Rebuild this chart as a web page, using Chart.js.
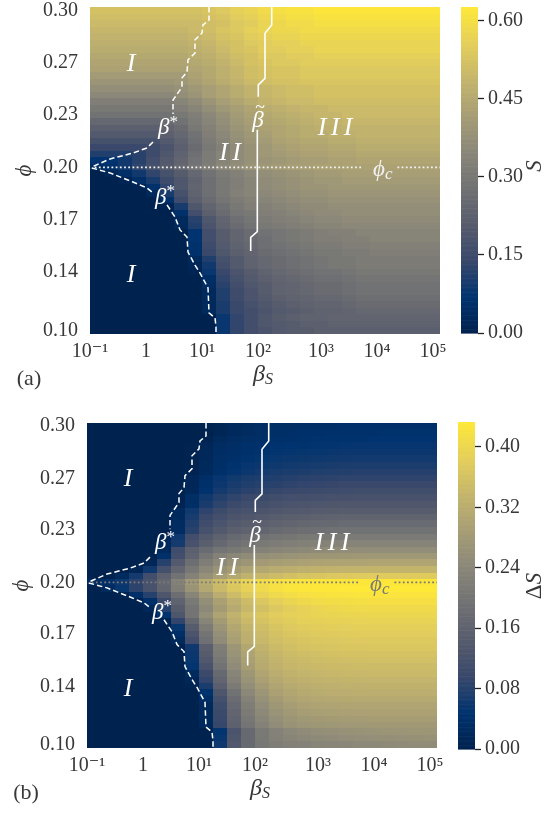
<!DOCTYPE html>
<html><head><meta charset="utf-8">
<script src="https://cdn.jsdelivr.net/npm/chart.js@4.4.1/dist/chart.umd.min.js"></script>
<style>
html,body{margin:0;padding:0;background:#fff;}
body{width:558px;height:813px;position:relative;overflow:hidden;}
canvas{position:absolute;}
</style></head><body>
<canvas id="mainA" width="450" height="400" style="left:0;top:0"></canvas>
<canvas id="cbA" width="118" height="400" style="left:440px;top:0"></canvas>
<canvas id="mainB" width="450" height="400" style="left:-3px;top:416px"></canvas>
<canvas id="cbB" width="118" height="400" style="left:437px;top:416px"></canvas>
<script>
// ================= DATA =================
// column centres: log10(beta_S)
const betaLog=[-0.88,-0.64,-0.40,-0.16,0.08,0.32,0.56,0.80,1.04,1.28,1.52,1.76,2.00,2.24,2.48,2.72,2.96,3.20,3.44,3.68,3.92,4.16,4.40,4.64,4.88];
// row centres: phi (top to bottom)
const phiRows=[0.3000,0.2959,0.2918,0.2878,0.2837,0.2796,0.2755,0.2714,0.2673,0.2633,0.2592,0.2551,0.2510,0.2469,0.2429,0.2388,0.2347,0.2306,0.2265,0.2224,0.2184,0.2143,0.2102,0.2061,0.2020,0.1980,0.1939,0.1898,0.1857,0.1816,0.1776,0.1735,0.1694,0.1653,0.1612,0.1571,0.1531,0.1490,0.1449,0.1408,0.1367,0.1327,0.1286,0.1245,0.1204,0.1163,0.1122,0.1082,0.1041,0.1000];
const xTickVals=[-1,-0.04,0.92,1.88,2.96,3.92,4.88];
const xTickLabels=['10\u207B\u00B9','1','10\u00B9','10\u00B2','10\u00B3','10\u2074','10\u2075'];
const yTickVals=[0.1000,0.1367,0.1694,0.2020,0.2347,0.2673,0.3000];
const yTickLabels=['0.10','0.14','0.17','0.20','0.23','0.27','0.30'];
// S (panel a), in units of 0.01
const S_a=[
[52,52,52,52,52,52,52,52,53,54,56,57,59,60,61,61,62,62,62,62,62,62,62,62,62],
[51,51,51,51,51,51,51,51,52,53,55,56,58,59,60,60,61,61,61,61,61,61,61,61,61],
[50,50,50,50,50,50,50,50,51,52,54,55,57,58,59,59,60,60,60,60,60,60,60,60,60],
[49,49,49,49,49,49,49,50,51,53,54,56,57,58,58,59,59,59,59,59,59,59,59,59,59],
[48,48,48,48,48,48,48,49,50,52,53,55,56,57,57,58,58,58,58,58,58,58,58,58,58],
[47,47,47,47,47,47,47,48,49,51,52,54,55,56,56,57,57,57,57,57,57,57,57,57,57],
[46,46,46,46,46,46,46,47,48,50,52,53,55,55,56,56,57,57,57,57,57,57,57,57,57],
[45,45,45,45,45,45,45,46,47,49,51,52,54,54,55,55,56,56,56,56,56,56,56,56,56],
[44,44,44,44,44,44,44,45,46,48,50,52,53,54,54,55,55,55,55,55,55,55,55,55,55],
[43,43,43,43,43,43,43,44,45,47,49,51,52,53,53,54,54,54,54,54,54,54,54,54,54],
[41,41,41,41,41,41,41,43,45,47,49,51,52,53,53,54,54,54,54,54,54,54,54,54,54],
[39,39,39,39,39,39,40,42,44,46,48,50,51,52,52,53,53,53,53,53,53,53,53,53,53],
[37,37,37,37,37,37,38,40,42,44,46,48,49,50,51,51,52,52,52,52,52,52,52,52,52],
[35,35,35,35,35,35,37,39,42,44,46,48,49,50,51,51,52,52,52,52,52,52,52,52,52],
[32,32,32,32,32,32,34,36,39,42,44,46,48,49,50,50,51,51,51,51,51,51,51,51,51],
[30,30,30,30,30,30,32,34,37,40,42,44,46,47,48,49,49,50,50,50,50,50,50,50,50],
[28,28,28,28,28,28,30,32,35,38,41,43,45,46,47,48,49,49,50,50,50,50,50,50,50],
[25,25,25,25,25,26,28,31,34,37,40,42,44,45,46,47,48,48,49,49,49,49,49,49,49],
[22,22,22,22,22,24,26,30,33,36,39,41,43,44,45,46,47,47,48,48,48,48,48,48,48],
[20,20,20,20,20,22,25,28,32,35,38,40,42,44,45,46,46,47,47,48,48,48,48,48,48],
[17,17,17,17,17,20,23,27,31,34,37,39,41,43,44,45,45,46,46,47,47,47,47,47,47],
[14,14,14,14,15,18,22,26,30,33,36,38,40,42,43,44,44,45,45,46,46,46,46,46,46],
[11,11,11,12,15,19,23,27,31,34,36,38,40,41,42,43,43,44,44,45,45,45,45,45,45],
[7,7,9,12,16,20,24,28,31,34,36,38,39,40,41,42,42,43,43,44,44,44,44,44,44],
[4,6,9,13,17,21,25,29,32,35,37,39,40,41,42,42,43,43,43,43,43,43,43,43,43],
[0,2,5,9,13,17,21,25,28,31,33,35,37,38,39,40,41,41,42,42,42,42,42,42,42],
[0,0,1,5,10,15,19,23,27,30,32,34,36,37,38,39,40,40,41,41,41,41,41,41,41],
[0,0,0,1,6,13,19,24,27,30,32,34,36,37,38,39,39,40,40,40,40,40,40,40,40],
[0,0,0,0,3,10,17,23,27,30,33,34,35,36,37,38,38,39,39,39,39,39,39,39,39],
[0,0,0,0,0,6,15,22,26,29,31,33,34,35,36,37,37,38,38,38,38,38,38,38,38],
[0,0,0,0,0,1,10,19,24,27,30,32,33,34,35,36,36,37,37,37,37,37,37,37,37],
[0,0,0,0,0,0,6,16,22,26,29,30,32,33,34,35,36,36,37,37,37,37,37,37,37],
[0,0,0,0,0,0,3,12,19,24,27,29,31,32,33,34,35,35,36,36,36,36,36,36,36],
[0,0,0,0,0,0,3,11,18,23,26,28,30,31,32,33,34,34,35,35,35,35,35,35,35],
[0,0,0,0,0,0,0,7,16,21,24,26,28,29,30,31,32,33,33,34,34,34,34,34,34],
[0,0,0,0,0,0,0,7,16,21,24,26,27,29,30,31,32,32,33,33,34,34,34,34,34],
[0,0,0,0,0,0,0,6,15,20,23,25,27,28,29,30,31,31,32,32,33,33,33,33,33],
[0,0,0,0,0,0,0,6,14,19,22,24,26,27,28,29,30,30,31,31,32,32,32,32,32],
[0,0,0,0,0,0,0,3,11,17,20,23,25,26,27,28,29,30,30,31,31,31,31,31,31],
[0,0,0,0,0,0,0,2,9,16,20,23,25,26,27,28,29,30,30,31,31,31,31,31,31],
[0,0,0,0,0,0,0,1,8,14,18,21,23,25,26,27,28,28,29,30,30,30,30,30,30],
[0,0,0,0,0,0,0,0,5,13,17,20,22,24,25,26,27,27,28,29,29,29,29,29,29],
[0,0,0,0,0,0,0,0,4,12,16,19,21,23,24,25,26,26,27,28,28,28,28,28,28],
[0,0,0,0,0,0,0,0,3,11,15,18,21,23,24,25,26,26,27,28,28,28,28,28,28],
[0,0,0,0,0,0,0,0,3,11,15,18,20,22,23,24,25,25,26,27,27,27,27,27,27],
[0,0,0,0,0,0,0,0,3,10,14,17,19,21,22,23,24,24,25,26,26,26,26,26,26],
[0,0,0,0,0,0,0,0,3,10,14,16,18,20,21,22,23,23,24,25,25,25,25,25,25],
[0,0,0,0,0,0,0,0,0,8,13,16,19,21,22,23,23,24,24,24,24,24,24,24,24],
[0,0,0,0,0,0,0,0,0,8,13,16,19,20,21,22,22,23,23,23,23,23,23,23,23],
[0,0,0,0,0,0,0,0,0,8,13,16,18,20,21,21,22,22,22,22,22,22,22,22,22]];
// Delta S (panel b), in units of 0.001
const dS_b=[
[0,0,0,0,0,0,0,0,1,11,21,26,30,33,34,36,37,38,39,39,39,40,40,40,40],
[0,0,0,0,0,0,0,0,1,12,23,29,33,36,38,40,41,42,43,43,43,44,44,44,44],
[0,0,0,0,0,0,0,0,4,20,29,34,37,39,41,43,45,46,47,47,48,48,48,48,48],
[0,0,0,0,0,0,0,2,15,28,34,39,43,46,48,49,50,51,52,53,53,53,53,53,53],
[0,0,0,0,0,0,0,2,16,30,37,43,47,50,52,54,55,56,57,58,58,58,58,58,58],
[0,0,0,0,0,0,0,2,18,33,41,47,52,55,58,59,61,62,63,64,64,64,64,64,64],
[0,0,0,0,0,0,0,6,20,37,46,53,58,61,64,66,67,69,70,71,71,71,71,71,71],
[0,0,0,0,0,0,0,6,22,41,51,58,64,68,71,73,75,77,78,79,79,79,79,79,79],
[0,0,0,0,0,0,0,13,37,53,62,69,72,76,79,82,84,85,87,88,88,88,88,88,88],
[0,0,0,0,0,0,0,15,41,58,68,76,80,83,87,90,92,94,96,97,97,97,97,97,97],
[0,0,0,0,0,0,3,16,45,65,76,84,89,93,97,100,103,105,106,108,108,108,108,108,108],
[0,0,0,0,0,0,4,34,62,78,89,98,103,108,112,114,116,118,119,120,120,120,120,120,120],
[0,0,0,0,0,0,4,37,69,86,99,109,114,120,124,127,129,131,132,133,133,133,133,133,133],
[0,0,0,0,0,0,22,62,88,103,115,121,126,132,137,140,143,145,147,147,147,147,147,147,147],
[0,0,0,0,0,0,24,68,97,113,126,133,139,146,151,154,157,160,162,162,162,162,162,162,162],
[0,0,0,0,0,0,27,75,107,124,139,146,153,160,166,169,173,175,178,178,178,178,178,178,178],
[0,0,0,0,0,0,29,82,117,137,152,160,168,176,181,185,189,192,195,195,195,195,195,195,195],
[0,0,0,0,0,6,60,111,138,158,175,183,192,198,202,207,210,211,213,213,213,213,213,213,213],
[0,0,0,0,0,19,65,121,151,172,191,200,210,217,221,226,230,231,233,233,233,233,233,233,233],
[0,0,0,0,0,20,107,152,178,198,208,218,229,236,241,246,250,252,254,254,254,254,254,254,254],
[0,0,0,0,3,40,110,160,200,225,240,250,258,263,267,270,272,274,275,276,277,277,277,277,277],
[0,0,0,0,15,80,140,185,220,245,262,274,283,289,293,296,298,300,301,302,303,303,303,303,303],
[0,0,0,10,60,115,165,205,240,265,285,300,310,318,323,327,330,332,333,334,335,335,335,335,335],
[0,0,25,65,110,155,195,230,260,290,310,328,340,350,358,364,368,372,374,376,377,378,378,378,378],
[25,40,60,88,120,170,232,278,318,350,375,395,410,420,426,429,430,430,430,430,430,430,430,430,430],
[2,25,55,85,120,165,220,268,310,345,370,390,405,418,425,429,431,432,433,433,433,433,433,433,433],
[0,0,5,35,80,130,185,235,280,320,350,375,392,405,413,418,421,423,424,425,426,426,426,426,426],
[0,0,0,3,40,100,160,210,255,295,325,350,370,385,396,404,409,412,414,415,416,416,416,416,416],
[0,0,0,0,15,80,145,200,245,285,315,340,358,372,383,391,397,401,404,406,407,407,407,407,407],
[0,0,0,0,0,45,130,200,255,300,332,355,370,380,387,391,394,396,398,399,400,400,400,400,400],
[0,0,0,0,0,8,90,170,235,285,320,345,362,374,381,386,389,390,391,392,392,392,392,392,392],
[0,0,0,0,0,0,55,145,215,270,308,335,353,366,374,379,382,383,384,385,385,385,385,385,385],
[0,0,0,0,0,0,35,125,200,258,298,326,346,359,368,373,376,378,379,380,380,380,380,380,380],
[0,0,0,0,0,0,20,110,190,250,292,322,342,355,362,367,370,372,373,374,375,375,375,375,375],
[0,0,0,0,0,0,0,60,150,220,272,308,332,347,356,361,364,366,368,369,370,370,370,370,370],
[0,0,0,0,0,0,0,58,145,215,266,301,325,340,349,354,357,359,361,362,363,363,363,363,363],
[0,0,0,0,0,0,0,55,135,205,258,295,319,334,343,348,351,353,355,356,357,357,357,357,357],
[0,0,0,0,0,0,0,50,120,195,250,288,315,330,338,342,345,347,348,349,350,350,350,350,350],
[0,0,0,0,0,0,0,25,100,175,235,275,303,320,330,336,339,341,342,343,344,344,344,344,344],
[0,0,0,0,0,0,0,15,90,165,225,267,295,313,323,329,332,334,335,336,337,337,337,337,337],
[0,0,0,0,0,0,0,5,70,150,212,255,285,304,315,321,325,327,328,329,330,330,330,330,330],
[0,0,0,0,0,0,0,0,45,130,195,242,274,295,307,314,318,320,321,322,323,323,323,323,323],
[0,0,0,0,0,0,0,0,30,115,182,230,263,285,298,306,310,312,313,314,315,315,315,315,315],
[0,0,0,0,0,0,0,0,20,105,172,220,253,275,288,296,300,302,303,304,305,305,305,305,305],
[0,0,0,0,0,0,0,0,20,100,165,212,245,267,280,288,292,294,295,296,297,297,297,297,297],
[0,0,0,0,0,0,0,0,20,97,160,205,237,258,271,279,283,285,286,287,288,288,288,288,288],
[0,0,0,0,0,0,0,0,18,93,155,199,230,251,264,271,275,277,278,279,280,280,280,280,280],
[0,0,0,0,0,0,0,0,0,50,125,175,210,230,242,250,255,259,262,265,267,269,270,271,272],
[0,0,0,0,0,0,0,0,0,55,130,175,207,225,235,242,247,250,253,256,258,259,260,261,262],
[0,0,0,0,0,0,0,0,0,60,135,175,205,218,225,230,235,238,241,244,246,248,250,251,252]];
const S_max=0.626, dS_max=0.433;
const cbTicksA=[0,0.15,0.30,0.45,0.60], cbLabelsA=['0.00','0.15','0.30','0.45','0.60'];
const cbTicksB=[0,0.08,0.16,0.24,0.32,0.40], cbLabelsB=['0.00','0.08','0.16','0.24','0.32','0.40'];
// boundary curves [log10 beta_S, phi]
const betaStarUp1=[[1.04,0.3021],[1.04,0.2939],[0.937,0.2908],[0.92,0.2858],[0.80,0.2815],[0.80,0.2733],[0.68,0.2690],[0.663,0.2615],[0.577,0.2577],[0.577,0.2521],[0.423,0.2440],[0.423,0.2353]];
const betaStarUp2=[[0.08,0.2178],[-0.023,0.2141],[-0.263,0.2109],[-0.657,0.2072],[-0.97,0.2022]];
const betaStarLow1=[[-0.97,0.2016],[-0.657,0.1985],[-0.263,0.1928],[-0.023,0.1891],[0.063,0.1866]];
const betaStarLow2=[[0.32,0.1785],[0.457,0.1710],[0.543,0.1629],[0.663,0.1585],[0.68,0.1491],[0.80,0.1410],[0.886,0.1360],[1.023,0.1267],[1.04,0.1111],[1.143,0.1080],[1.16,0.1024],[1.16,0.0975]];
const betaTilde1=[[2.115,0.3021],[2.115,0.2908],[2.0,0.2856],[2.0,0.2575],[1.885,0.2534],[1.885,0.2461]];
const betaTilde2=[[1.868,0.2255],[1.868,0.1618],[1.755,0.1583],[1.755,0.1498]];
const phiC=0.2020;
const phiCLine1=[[-0.92,phiC],[3.65,phiC]], phiCLine2=[[4.27,phiC],[5,phiC]];

// ================= RENDERING =================
const SERIF='"Liberation Serif","DejaVu Serif",serif';
const TXT='#383838';
const CIV=[[0,34,78],[0,51,111],[57,72,107],[87,92,109],[112,113,115],[138,135,121],[166,157,117],[196,181,108],[228,207,91],[254,232,56]];
function cividis(t){t=Math.max(0,Math.min(1,t));const p=t*9,i=Math.min(8,Math.floor(p)),f=p-i,a=CIV[i],b=CIV[i+1];
 return 'rgb('+Math.round(a[0]+(b[0]-a[0])*f)+','+Math.round(a[1]+(b[1]-a[1])*f)+','+Math.round(a[2]+(b[2]-a[2])*f)+')';}
function drawParts(ctx,parts,x,y,color){let w=0;for(const p of parts){ctx.font=p.f;p.w=ctx.measureText(p.t).width;w+=p.w;}
 let cx=x-w/2;ctx.fillStyle=color;ctx.textAlign='left';ctx.textBaseline='middle';
 for(const p of parts){ctx.font=p.f;ctx.fillText(p.t,cx,y+(p.dy||0));cx+=p.w;}}
function lineDS(pts,color,dash,width){return {data:pts.map(p=>({x:p[0],y:p[1]})),showLine:true,borderColor:color,borderWidth:width,borderDash:dash,pointRadius:0,pointHoverRadius:0,tension:0,fill:false};}
const noPadV=s=>{s.paddingTop=0;s.paddingBottom=0;};
const noPadH=s=>{s.paddingLeft=0;s.paddingRight=0;};

function makeMain(id,grid,unit,vmax,xAxisH,phiCColor,panelLabel){
 const heat={id:'heat',beforeDatasetsDraw(chart){const {ctx,chartArea:ca,scales:{x,y}}=chart;ctx.save();
  ctx.beginPath();ctx.rect(ca.left,ca.top,ca.right-ca.left,ca.bottom-ca.top);ctx.clip();
  const hx=(betaLog[1]-betaLog[0])/2,hy=(phiRows[0]-phiRows[1])/2;
  for(let r=0;r<phiRows.length;r++)for(let c=0;c<betaLog.length;c++){
   const v=grid[r][c]*unit;
   const x0=Math.round(x.getPixelForValue(betaLog[c]-hx)),x1=Math.round(x.getPixelForValue(betaLog[c]+hx));
   const y0=Math.round(y.getPixelForValue(phiRows[r]+hy)),y1=Math.round(y.getPixelForValue(phiRows[r]-hy));
   ctx.fillStyle=cividis(v/vmax);ctx.fillRect(x0,y0,x1-x0+0.5,y1-y0+0.5);}
  ctx.restore();}};
 const labels={id:'labels',afterDatasetsDraw(chart){const {ctx,scales:{x,y},chartArea:ca}=chart;ctx.save();
  const P=(a,b)=>[x.getPixelForValue(a),y.getPixelForValue(b)];
  const iFont='italic 26px '+SERIF;
  const roman=(n,a,b)=>{const [px,py]=P(a,b);ctx.font=iFont;ctx.fillStyle='#fff';ctx.textAlign='center';ctx.textBaseline='middle';
   for(let k=0;k<n;k++)ctx.fillText('I',px+(k-(n-1)/2)*13,py);};
  roman(1,-0.297,0.2665);roman(1,-0.297,0.1348);roman(2,1.40,0.2109);roman(3,3.20,0.2265);
  const gF='italic 23px '+SERIF;
  let [bx,by]=P(0.337,0.2265);drawParts(ctx,[{t:'\u03B2',f:gF},{t:'*',f:'17px '+SERIF,dy:-6}],bx,by,'#fff');
  [bx,by]=P(0.286,0.1830);drawParts(ctx,[{t:'\u03B2',f:gF},{t:'*',f:'17px '+SERIF,dy:-6}],bx,by,'#fff');
  [bx,by]=P(1.88,0.2328);drawParts(ctx,[{t:'\u03B2',f:gF}],bx,by+3,'#fff');
  ctx.font='18px '+SERIF;ctx.textAlign='center';ctx.fillText('~',bx+2,by-10);
  [bx,by]=P(4.02,0.2003);drawParts(ctx,[{t:'\u03D5',f:gF},{t:'c',f:'italic 17px '+SERIF,dy:5}],bx,by,phiCColor);
  // axis titles
  ctx.save();ctx.translate(25,(ca.top+ca.bottom)/2);ctx.rotate(-Math.PI/2);
  drawParts(ctx,[{t:'\u03D5',f:'italic 23px '+SERIF}],0,0,TXT);ctx.restore();
  drawParts(ctx,[{t:'\u03B2',f:'italic 24px '+SERIF},{t:'S',f:'italic 16px '+SERIF,dy:5}],263,ca.bottom+41,TXT);
  drawParts(ctx,[{t:panelLabel,f:'22px '+SERIF}],29,ca.bottom+45,TXT);
  ctx.restore();}};
 return new Chart(document.getElementById(id),{type:'scatter',
  data:{datasets:[
   lineDS(betaStarUp1,'#fff',[5.5,3],1.5),lineDS(betaStarUp2,'#fff',[5.5,3],1.5),
   lineDS(betaStarLow1,'#fff',[5.5,3],1.5),lineDS(betaStarLow2,'#fff',[5.5,3],1.5),
   lineDS(betaTilde1,'#fff',[],1.6),lineDS(betaTilde2,'#fff',[],1.6),
   lineDS(phiCLine1,phiCColor,[1.8,2.4],1.8),lineDS(phiCLine2,phiCColor,[1.8,2.4],1.8)]},
  options:{responsive:false,animation:false,events:[],
   layout:{padding:{left:0,right:10,top:7,bottom:0}},
   plugins:{legend:{display:false},tooltip:{enabled:false}},
   scales:{
    x:{type:'linear',min:-1,max:5,afterBuildTicks:s=>{s.ticks=xTickVals.map(v=>({value:v}));},afterFit:s=>{s.height=xAxisH;noPadH(s);},
     ticks:{callback:(v,i)=>xTickLabels[i],autoSkip:false,maxRotation:0,minRotation:0,padding:6,color:TXT,font:{family:SERIF,size:20}},
     grid:{display:false,drawTicks:false},border:{display:false}},
    y:{type:'linear',min:0.09796,max:0.30204,afterBuildTicks:s=>{s.ticks=yTickVals.map(v=>({value:v}));},afterFit:s=>{s.width=90;noPadV(s);},
     ticks:{callback:(v,i)=>yTickLabels[i],autoSkip:false,padding:12,color:TXT,font:{family:SERIF,size:20}},
     grid:{display:false,drawTicks:false},border:{display:false}}}},
  plugins:[heat,labels]});
}
function makeCB(id,vmax,ticks,tlabels,padTop,padBottom,titleParts,titleX,titleY){
 const grad={id:'grad',beforeDatasetsDraw(chart){const {ctx,chartArea:ca,scales:{y}}=chart;ctx.save();
  const N=256;for(let k=0;k<N;k++){const v0=vmax*k/N,v1=vmax*(k+1)/N;const y0=y.getPixelForValue(v1),y1=y.getPixelForValue(v0);
   ctx.fillStyle=cividis((k+0.5)/N);ctx.fillRect(ca.left,y0,ca.right-ca.left,y1-y0+0.6);}
  ctx.translate(titleX,titleY);ctx.rotate(-Math.PI/2);drawParts(ctx,titleParts,0,0,TXT);ctx.restore();}};
 return new Chart(document.getElementById(id),{type:'scatter',data:{datasets:[]},
  options:{responsive:false,animation:false,events:[],
   layout:{padding:{left:21,right:0,top:padTop,bottom:padBottom}},
   plugins:{legend:{display:false},tooltip:{enabled:false}},
   scales:{x:{display:false,min:0,max:1},
    y:{position:'right',min:0,max:vmax,afterBuildTicks:s=>{s.ticks=ticks.map(v=>({value:v}));},afterFit:s=>{s.width=80;noPadV(s);},
     ticks:{callback:(v,i)=>tlabels[i],autoSkip:false,padding:4,color:TXT,font:{family:SERIF,size:20}},
     grid:{display:true,drawOnChartArea:false,drawTicks:true,tickLength:6,tickColor:'#222',tickWidth:1.3},border:{display:false}}}},
  plugins:[grad]});
}
makeMain('mainA',S_a,0.01,S_max,66,'#f2f2f2','(a)');
makeMain('mainB',dS_b,0.001,dS_max,68,'#7a7a7a','(b)');
makeCB('cbA',S_max,cbTicksA,cbLabelsA,7,67,[{t:'S',f:'italic 23px '+SERIF}],95,166);
makeCB('cbB',dS_max,cbTicksB,cbLabelsB,6,67,[{t:'\u0394',f:'23px '+SERIF},{t:'S',f:'italic 23px '+SERIF}],98,170);
</script></body></html>
